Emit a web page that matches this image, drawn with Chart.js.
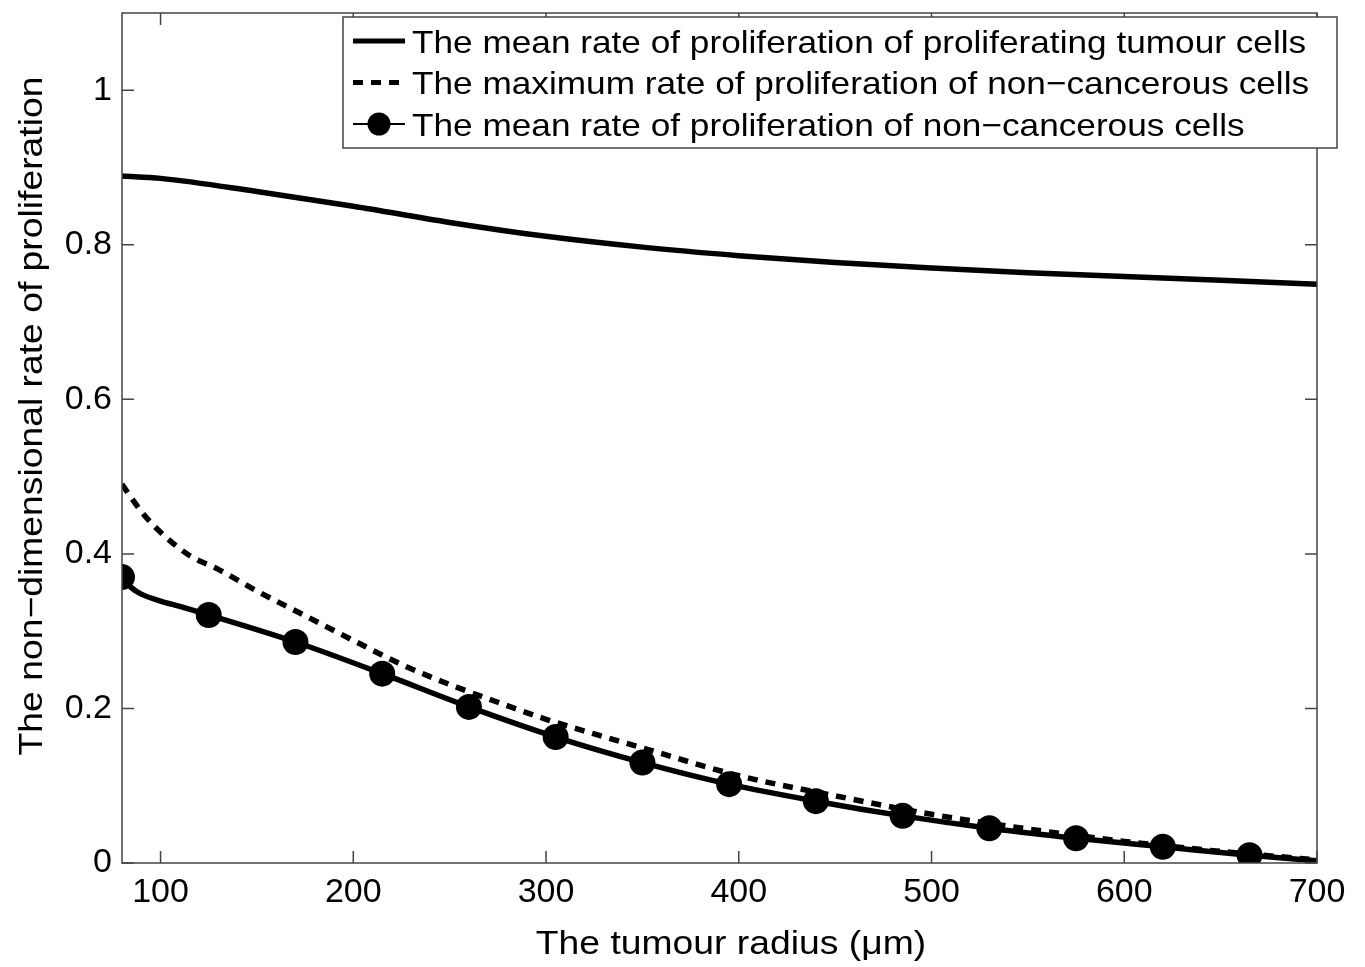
<!DOCTYPE html>
<html>
<head>
<meta charset="utf-8">
<script src="https://cdn.jsdelivr.net/npm/chart.js@4/dist/chart.umd.min.js"></script>
<style>
  html, body { margin: 0; padding: 0; background: #fff; }
  #wrap { width: 1365px; height: 967px; }
</style>
</head>
<body>
<div id="wrap"><canvas id="myChart" width="1365" height="967"></canvas></div>
<script>
// data
const tumourX = [80, 100, 150, 200, 250, 300, 350, 400, 450, 500, 550, 600, 650, 700];
const tumourY = [0.889, 0.886, 0.869, 0.850, 0.829, 0.811, 0.797, 0.786, 0.777, 0.770, 0.764, 0.759, 0.754, 0.749];

const maxX = [80, 90, 100, 115, 130, 150, 175, 200, 225, 250, 275, 300, 325, 350, 400, 450, 500, 550, 600, 650, 700];
const maxY = [0.490, 0.455, 0.428, 0.398, 0.380, 0.352, 0.320, 0.288, 0.257, 0.231, 0.208, 0.186, 0.167, 0.149, 0.113, 0.087, 0.063, 0.044, 0.028, 0.015, 0.004];

const meanX = [80, 85, 90, 100, 110, 125, 170, 215, 260, 305, 350, 395, 440, 485, 530, 575, 620, 665, 700];
const meanY = [0.370, 0.356, 0.348, 0.339, 0.332, 0.321, 0.286, 0.245, 0.202, 0.163, 0.130, 0.102, 0.080, 0.061, 0.045, 0.032, 0.021, 0.010, 0.003];
const markerX = [80, 125, 170, 215, 260, 305, 350, 395, 440, 485, 530, 575, 620, 665];

const xTicks = [100, 200, 300, 400, 500, 600, 700];
const yTicks = [0, 0.2, 0.4, 0.6, 0.8, 1];

const legendLabels = [
  'The mean rate of proliferation of proliferating tumour cells',
  'The maximum rate of proliferation of non\u2212cancerous cells',
  'The mean rate of proliferation of non\u2212cancerous cells'
];
const xTitle = 'The tumour radius (\u03bcm)';
const yTitle = 'The non\u2212dimensional rate of proliferation';

const FONT = '"Liberation Sans", Arial, Helvetica, sans-serif';
const toPts = (xs, ys) => xs.map((x, i) => ({ x: x, y: ys[i] }));

// text in the original is a bit wider than Liberation Sans, so stretch it sideways
function wideText(ctx, text, x, y, size, stretch, align) {
  ctx.save();
  ctx.font = size + 'px ' + FONT;
  ctx.fillStyle = '#000';
  ctx.textBaseline = 'alphabetic';
  const w = ctx.measureText(text).width * stretch;
  let left = x;
  if (align === 'center') left = x - w / 2;
  ctx.translate(left, y);
  ctx.scale(stretch, 1);
  ctx.textAlign = 'left';
  ctx.fillText(text, 0, 0);
  ctx.restore();
}

// box around the plot + inward ticks on all four sides + axis titles
const boxPlugin = {
  id: 'box',
  afterDatasetsDraw(chart) {
    const { ctx, chartArea: a, scales } = chart;
    ctx.save();
    ctx.strokeStyle = '#444';
    ctx.lineWidth = 1.5;
    ctx.strokeRect(a.left, a.top, a.right - a.left, a.bottom - a.top);
    const len = 12;
    ctx.beginPath();
    xTicks.forEach(v => {
      const px = scales.x.getPixelForValue(v);
      ctx.moveTo(px, a.bottom); ctx.lineTo(px, a.bottom - len);
      ctx.moveTo(px, a.top); ctx.lineTo(px, a.top + len);
    });
    yTicks.forEach(v => {
      const py = scales.y.getPixelForValue(v);
      ctx.moveTo(a.left, py); ctx.lineTo(a.left + len, py);
      ctx.moveTo(a.right, py); ctx.lineTo(a.right - len, py);
    });
    ctx.stroke();
    ctx.restore();

    wideText(ctx, xTitle, 731, 954, 33, 1.13, 'center');
    ctx.save();
    ctx.translate(42, 416);
    ctx.rotate(-Math.PI / 2);
    wideText(ctx, yTitle, 0, 0, 33, 1.13, 'center');
    ctx.restore();
  }
};

// matlab-like legend box at top right
const legendPlugin = {
  id: 'matLegend',
  afterDraw(chart) {
    const ctx = chart.ctx;
    const x0 = 343, y0 = 17, w = 994, h = 131;
    ctx.save();
    ctx.fillStyle = '#fff';
    ctx.fillRect(x0, y0, w, h);
    ctx.strokeStyle = '#444';
    ctx.lineWidth = 1.5;
    ctx.strokeRect(x0, y0, w, h);
    const rows = [41, 82.5, 124];
    chart.data.datasets.forEach((ds, i) => {
      const y = rows[i];
      ctx.strokeStyle = '#000';
      ctx.lineWidth = i === 2 ? 2 : 5;
      ctx.setLineDash(i === 1 ? [10, 8] : []);
      ctx.beginPath();
      ctx.moveTo(353, y);
      ctx.lineTo(405, y);
      ctx.stroke();
      ctx.setLineDash([]);
      if (i === 2) {
        ctx.fillStyle = '#000';
        ctx.beginPath();
        ctx.arc(379, y, 11.5, 0, Math.PI * 2);
        ctx.fill();
      }
      wideText(ctx, legendLabels[i], 412, y + 11.5, 32, 1.1, 'left');
    });
    ctx.restore();
  }
};

const ctx = document.getElementById('myChart').getContext('2d');
const myChart = new Chart(ctx, {
  type: 'line',
  data: {
    datasets: [
      {
        label: legendLabels[0],
        data: toPts(tumourX, tumourY),
        borderColor: '#000',
        borderWidth: 5.5,
        pointRadius: 0,
        cubicInterpolationMode: 'monotone'
      },
      {
        label: legendLabels[1],
        data: toPts(maxX, maxY),
        borderColor: '#000',
        borderWidth: 5.5,
        borderDash: [10, 8],
        pointRadius: 0,
        cubicInterpolationMode: 'monotone'
      },
      {
        label: legendLabels[2],
        data: toPts(meanX, meanY),
        borderColor: '#000',
        backgroundColor: '#000',
        borderWidth: 5.5,
        pointRadius: c => (markerX.includes(c.raw.x) ? 13 : 0),
        pointBackgroundColor: '#000',
        pointBorderWidth: 0,
        cubicInterpolationMode: 'monotone'
      }
    ]
  },
  options: {
    responsive: false,
    animation: false,
    layout: { padding: { top: 9, right: 48, left: 0, bottom: 0 } },
    plugins: { legend: { display: false }, tooltip: { enabled: false } },
    scales: {
      x: {
        type: 'linear',
        min: 80,
        max: 700,
        afterBuildTicks: s => { s.ticks = xTicks.map(v => ({ value: v })); },
        afterFit: s => { s.height = 104; s.paddingLeft = 0; s.paddingRight = 0; },
        grid: { display: false },
        border: { display: false },
        ticks: { color: '#000', padding: 1, font: { family: FONT, size: 34 } }
      },
      y: {
        min: 0,
        max: 1.1,
        afterBuildTicks: s => { s.ticks = yTicks.map(v => ({ value: v })); },
        afterFit: s => { s.width = 122; s.paddingTop = 0; s.paddingBottom = 0; },
        grid: { display: false },
        border: { display: false },
        ticks: {
          color: '#000',
          padding: 2,
          font: { family: FONT, size: 34 },
          callback: v => String(+v.toFixed(1))
        }
      }
    }
  },
  plugins: [boxPlugin, legendPlugin]
});
</script>
</body>
</html>
